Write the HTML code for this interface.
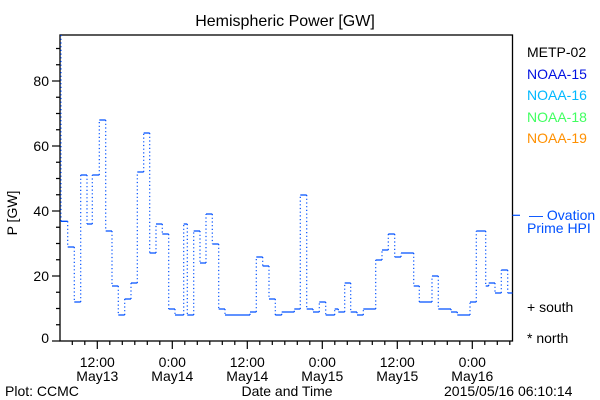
<!DOCTYPE html>
<html><head><meta charset="utf-8"><style>
html,body{margin:0;padding:0;background:#fff;}
svg{display:block;font-family:"Liberation Sans",sans-serif;}
</style></head><body>
<svg width="600" height="400" viewBox="0 0 600 400" xmlns="http://www.w3.org/2000/svg">
<rect width="600" height="400" fill="#fff"/>
<text x="285" y="26" font-size="16" text-anchor="middle">Hemispheric Power [GW]</text>
<rect x="60" y="35" width="452.5" height="306" fill="none" stroke="#000" stroke-width="1.3"/>
<g stroke="#000" stroke-width="1.2">
<line x1="52" y1="341" x2="60" y2="341"/><line x1="52" y1="276" x2="60" y2="276"/><line x1="52" y1="211" x2="60" y2="211"/><line x1="52" y1="146" x2="60" y2="146"/><line x1="52" y1="81" x2="60" y2="81"/>
<path d="M56 324.75H60M56 308.5H60M56 292.25H60M56 259.75H60M56 243.5H60M56 227.25H60M56 194.75H60M56 178.5H60M56 162.25H60M56 129.75H60M56 113.5H60M56 97.25H60M56 64.75H60M56 48.5H60"/>
<path d="M97.3 341V349M172.3 341V349M247.3 341V349M322.3 341V349M397.3 341V349M472.3 341V349"/>
<path d="M72.3 341V345M84.8 341V345M109.8 341V345M122.3 341V345M134.8 341V345M147.3 341V345M159.8 341V345M184.8 341V345M197.3 341V345M209.8 341V345M222.3 341V345M234.8 341V345M259.8 341V345M272.3 341V345M284.8 341V345M297.3 341V345M309.8 341V345M334.8 341V345M347.3 341V345M359.8 341V345M372.3 341V345M384.8 341V345M409.8 341V345M422.3 341V345M434.8 341V345M447.3 341V345M459.8 341V345M484.8 341V345M497.3 341V345M509.8 341V345"/>
</g>
<g font-size="14" text-anchor="end"><text x="49" y="343">0</text><text x="49" y="281">20</text><text x="49" y="216">40</text><text x="49" y="151">60</text><text x="49" y="86">80</text></g>
<text transform="translate(17,213) rotate(-90)" font-size="14" text-anchor="middle">P [GW]</text>
<g font-size="14" text-anchor="middle">
<text x="97.3" y="367">12:00</text><text x="97.3" y="381">May13</text>
<text x="172.3" y="367">0:00</text><text x="172.3" y="381">May14</text>
<text x="247.3" y="367">12:00</text><text x="247.3" y="381">May14</text>
<text x="322.3" y="367">0:00</text><text x="322.3" y="381">May15</text>
<text x="397.3" y="367">12:00</text><text x="397.3" y="381">May15</text>
<text x="472.3" y="367">0:00</text><text x="472.3" y="381">May16</text>
<text x="287" y="396">Date and Time</text>
</g>
<text x="5" y="396" font-size="14">Plot: CCMC</text>
<text x="444" y="396" font-size="14">2015/05/16 06:10:14</text>
<g font-size="14">
<text x="527" y="57" fill="#000">METP-02</text>
<text x="527" y="79" fill="#0010e0">NOAA-15</text>
<text x="527" y="100" fill="#00b8ff">NOAA-16</text>
<text x="527" y="122" fill="#40ff60">NOAA-18</text>
<text x="527" y="143" fill="#ff9000">NOAA-19</text>
<text x="529" y="220" fill="#0050ff">— Ovation</text>
<text x="527" y="233" fill="#0050ff">Prime HPI</text>
<text x="527" y="312">+ south</text>
<text x="527" y="343">* north</text>
</g>
<line x1="512.5" y1="215.3" x2="520" y2="215.3" stroke="#0050ff" stroke-width="1.2"/>
<g stroke="#0050ff" stroke-width="1.3" fill="none">
<path d="M61 221.3H67.7M67.7 247H74.3M74.3 302H80.7M80.7 175H87M87 224H92.3M92.3 175H99.3M99.3 120H105.7M105.7 231H112M112 286H118.3M118.3 315H124.7M124.7 299H131M131 283H137.3M137.3 172H143.7M143.7 133H149.7M149.7 253H156M156 224H162.3M162.3 234H168.7M168.7 309H175M175 315H183.7M183.7 224H187.3M187.3 315H193.7M193.7 231H200M200 263H206M206 214H212.3M212.3 244H218.7M218.7 309H225M225 315H250M250 312H256.3M256.3 257H262.7M262.7 266H269M269 299H275.3M275.3 315H281.7M281.7 312H294.3M294.3 309H300.3M300.3 195H306.7M306.7 309H313M313 312H319.3M319.3 302H325.7M325.7 315H334.7M334.7 309H338.3M338.3 312H344.7M344.7 283H350.7M350.7 312H357M357 315H363.3M363.3 309H375.7M375.7 260H382M382 250H388.3M388.3 234H394.7M394.7 257H401M401 253H413.7M413.7 286H419.3M419.3 302H432M432 276H438.3M438.3 309H451M451 312H457.3M457.3 315H470M470 302H476.3M476.3 231H485.7M485.7 286H488.7M488.7 283H495M495 293H501.3M501.3 270H507.7M507.7 293H512.5"/>
</g>
<g stroke="#0050ff" stroke-width="1.2" fill="none" stroke-dasharray="1.2,2.5">
<path d="M61 35V221.3M67.7 221.3V247M74.3 247V302M80.7 302V175M87 175V224M92.3 224V175M99.3 175V120M105.7 120V231M112 231V286M118.3 286V315M124.7 315V299M131 299V283M137.3 283V172M143.7 172V133M149.7 133V253M156 253V224M162.3 224V234M168.7 234V309M175 309V315M183.7 315V224M187.3 224V315M193.7 315V231M200 231V263M206 263V214M212.3 214V244M218.7 244V309M225 309V315M250 315V312M256.3 312V257M262.7 257V266M269 266V299M275.3 299V315M281.7 315V312M294.3 312V309M300.3 309V195M306.7 195V309M313 309V312M319.3 312V302M325.7 302V315M334.7 315V309M338.3 309V312M344.7 312V283M350.7 283V312M357 312V315M363.3 315V309M375.7 309V260M382 260V250M388.3 250V234M394.7 234V257M401 257V253M413.7 253V286M419.3 286V302M432 302V276M438.3 276V309M451 309V312M457.3 312V315M470 315V302M476.3 302V231M485.7 231V286M488.7 286V283M495 283V293M501.3 293V270M507.7 270V293"/>
</g>
</svg>
</body></html>
